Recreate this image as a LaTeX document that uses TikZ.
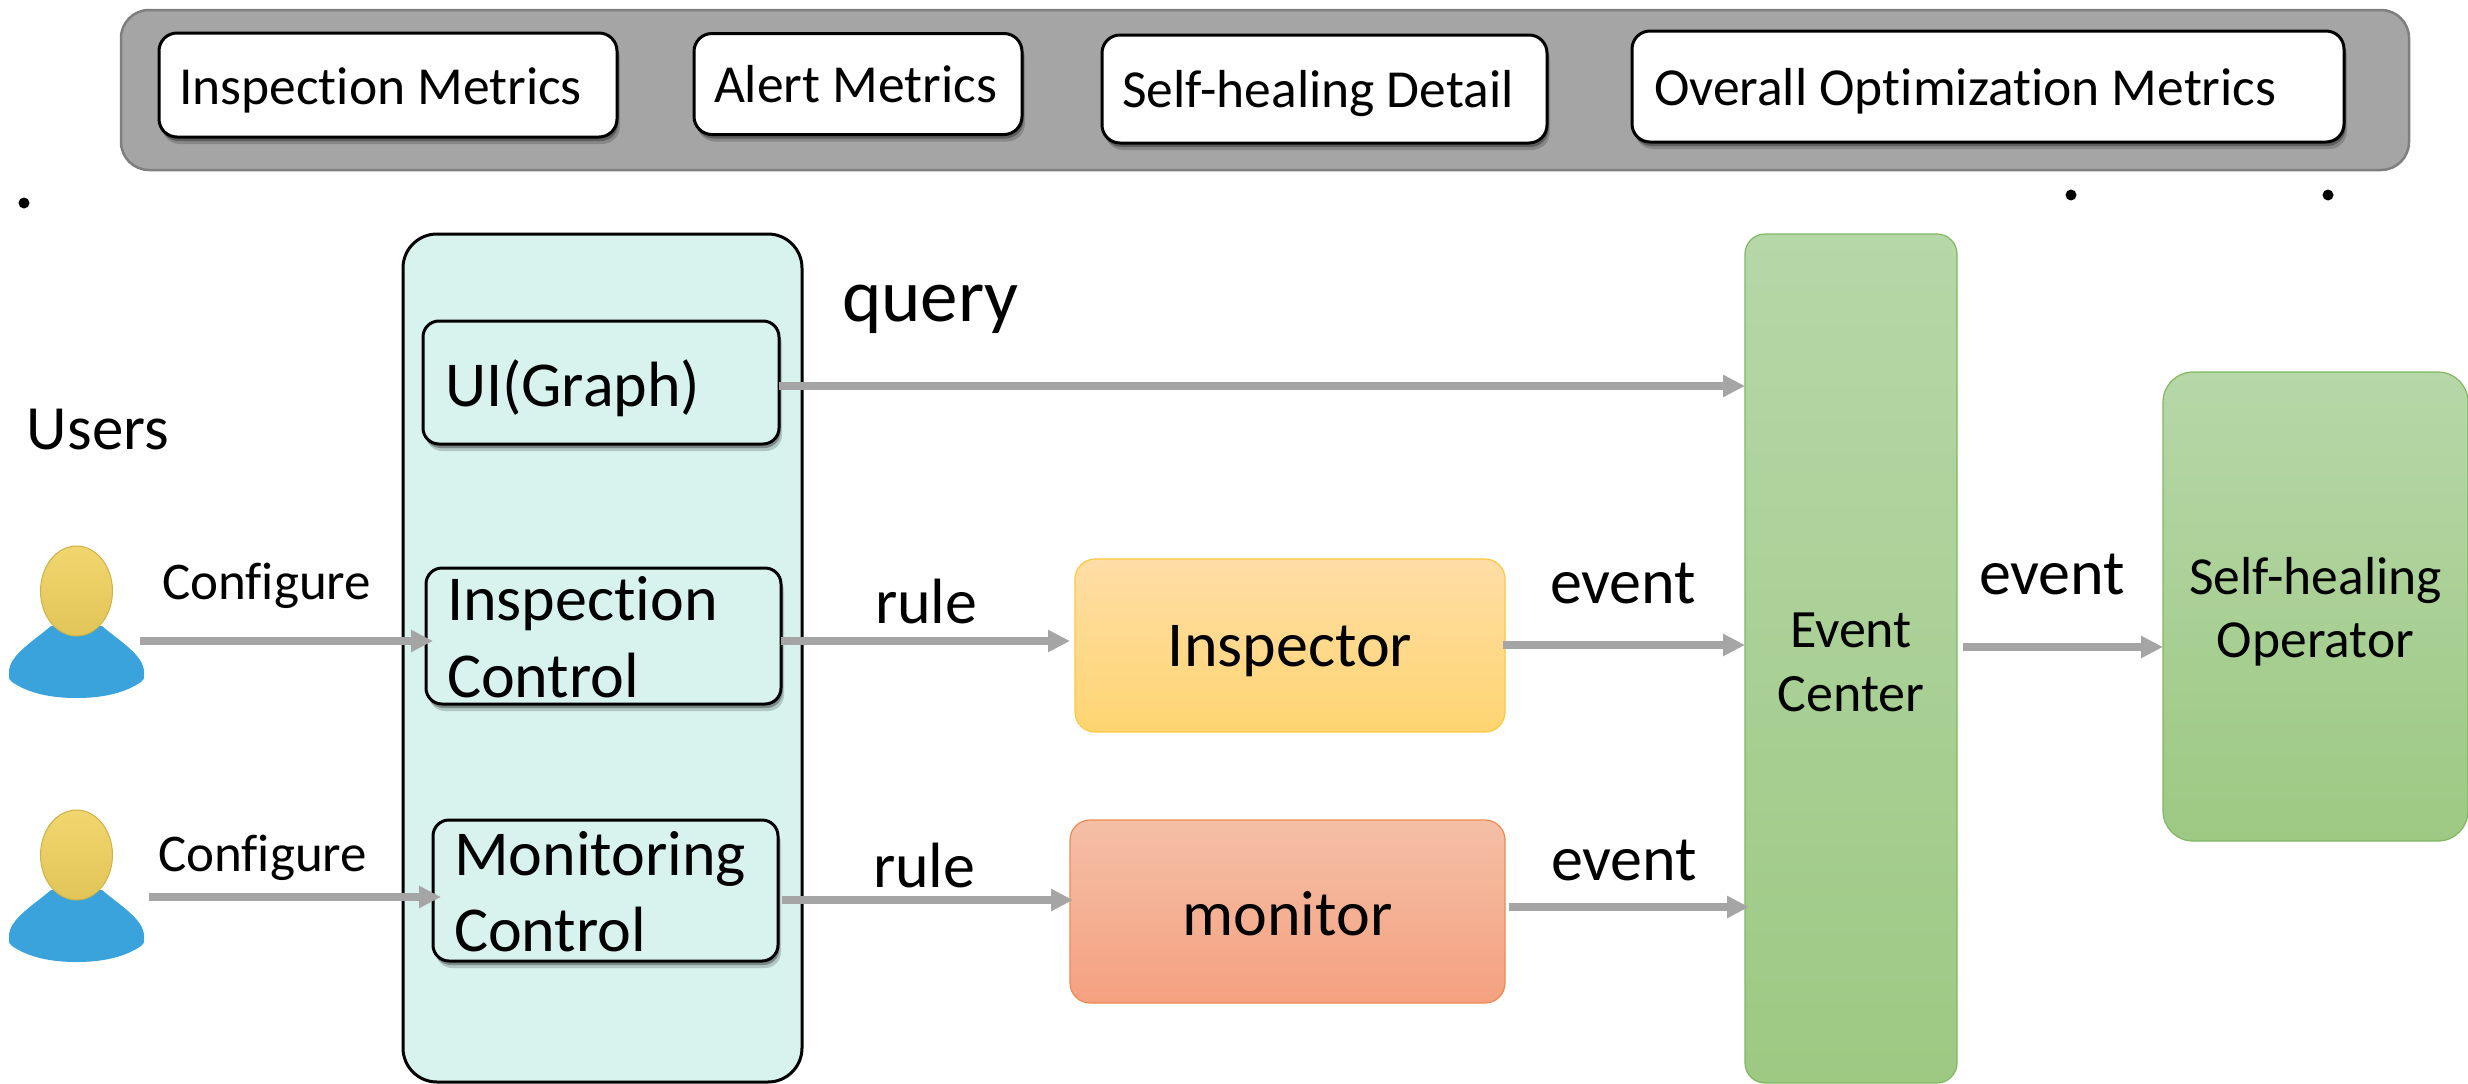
\documentclass[tikz,border=0pt]{standalone}
\usepackage{fontspec}
\setmainfont{Carlito}[Ligatures=NoCommon]
\usetikzlibrary{arrows.meta,shadows}
\definecolor{band}{HTML}{A5A5A5}
\definecolor{bandline}{HTML}{7F7F7F}
\definecolor{teal}{HTML}{D8F3EE}
\definecolor{arrowgrey}{HTML}{A5A5A5}
\definecolor{arcgreen}{HTML}{7FB860}
\definecolor{greentop}{HTML}{B6D7A8}
\definecolor{greenbot}{HTML}{9DC983}
\definecolor{personblue}{HTML}{3AA3DB}
\definecolor{headtop}{HTML}{F1D66F}
\definecolor{headbot}{HTML}{E2C557}
\definecolor{headline}{HTML}{CDB24C}
\definecolor{insptop}{HTML}{FFDDA6}
\definecolor{inspbot}{HTML}{FFD571}
\definecolor{inspline}{HTML}{FFC740}
\definecolor{montop}{HTML}{F4BFA6}
\definecolor{monbot}{HTML}{F5A180}
\definecolor{monline}{HTML}{EE8A50}
\newcommand{\fs}[1]{\fontsize{#1}{#1}\selectfont}
\tikzset{
  x=1pt,y=-1pt,
  boxbase/.style={rectangle,outer sep=0pt,inner sep=0pt,font=\fs{52},align=center},
  softshadow/.style={drop shadow={shadow xshift=3pt,shadow yshift=-7pt,opacity=.18,fill=black},
                     drop shadow={shadow xshift=1.5pt,shadow yshift=-4pt,opacity=.3,fill=black}},
  whitebox/.style={boxbase,draw=black,line width=3pt,fill=white,rounded corners=18pt,softshadow},
  ctlbox/.style={boxbase,draw=black,line width=3pt,fill=teal,rounded corners=16pt,softshadow},
  greenbox/.style={boxbase,draw=arcgreen,line width=1.2pt,top color=greentop,bottom color=greenbot},
  arr/.style={draw=arrowgrey,line width=7.6pt,-{Triangle[length=22pt,width=21pt,fill=arrowgrey]}},
  lbl/.style={anchor=base west,inner sep=0pt,outer sep=0pt},
  person/.pic={
    \fill[personblue] (51,626) .. controls (35,640) and (9,655) .. (9,672)
      .. controls (9,680) and (9,680) .. (12,682)
      .. controls (28,693) and (50,698) .. (76.5,698)
      .. controls (103,698) and (125,693) .. (141,682)
      .. controls (144,680) and (144,680) .. (144,672)
      .. controls (144,655) and (118,640) .. (102,626) -- cycle;
    \shade[top color=headtop,bottom color=headbot,draw=headline,line width=1pt]
      (76.5,591) ellipse [x radius=36,y radius=45];
  }
}
\begin{document}
\begin{tikzpicture}
\useasboundingbox (0,0) rectangle (2468,1084);
% top band
\node[boxbase,draw=bandline,line width=2.5pt,fill=band,rounded corners=28pt,minimum width=2288pt,minimum height=160pt] (band) at (1265,90) {};
\node[whitebox,minimum width=458pt,minimum height=104pt] (m1) at (388,85) {};
\node[whitebox,minimum width=328pt,minimum height=101pt] (m2) at (858,84) {};
\node[whitebox,minimum width=445pt,minimum height=108pt] (m3) at (1324.5,89) {};
\node[whitebox,minimum width=712pt,minimum height=111pt] (m4) at (1988,86.5) {};
\node[lbl,font=\fs{53.5}] (t1) at (179,104) {Inspection Metrics};
\node[lbl,font=\fs{53.5}] (t2) at (714,102) {Alert Metrics};
\node[lbl,font=\fs{53.5}] (t3) at (1122,107) {Self-healing Detail};
\node[lbl,font=\fs{53.5}] (t4) at (1654,105) {Overall Optimization Metrics};
% dots
\fill[black] (24,203) circle (5.5) (2071,195) circle (5.5) (2328,195) circle (5.5);
% control panel
\node[boxbase,draw=black,line width=3pt,fill=teal,rounded corners=34pt,minimum width=399pt,minimum height=848pt] (panel) at (602.5,658) {};
\node[ctlbox,minimum width=356pt,minimum height=123pt] (ui) at (601,382.5) {};
\node[ctlbox,minimum width=355pt,minimum height=136pt] (ictl) at (603.5,636) {};
\node[ctlbox,minimum width=345pt,minimum height=141pt] (mctl) at (605.5,890.5) {};
\node[lbl,font=\fs{64}] (uit) at (445,406) {UI(Graph)};
\node[lbl,font=\fs{64}] (it1) at (447,620) {Inspection};
\node[lbl,font=\fs{64}] (it2) at (447,697) {Control};
\node[lbl,font=\fs{64}] (mt1) at (454,875) {Monitoring};
\node[lbl,font=\fs{64}] (mt2) at (454,951) {Control};
% users
\pic (u1) at (0,0) {person};
\pic (u2) at (0,264) {person};
\node[lbl,font=\fs{63}] (users) at (27,449) {Users};
\node[outer sep=0pt,inner sep=0pt,minimum width=131pt,minimum height=1pt] (p1) at (74.5,641) {};
\node[outer sep=0pt,inner sep=0pt,minimum width=140pt,minimum height=1pt] (p2) at (79,897) {};
\node[lbl,font=\fs{53}] (c1) at (162,599) {Configure};
\node[lbl,font=\fs{53}] (c2) at (158,871) {Configure};
% process boxes
\node[boxbase,draw=inspline,line width=1.2pt,top color=insptop,bottom color=inspbot,rounded corners=20pt,minimum width=430pt,minimum height=173pt,font=\fs{64},text height=55pt,text depth=13pt] (insp) at (1290,645.5) {Inspector};
\node[boxbase,draw=monline,line width=1.2pt,top color=montop,bottom color=monbot,rounded corners=20pt,minimum width=435pt,minimum height=183pt,font=\fs{64},text height=60pt,text depth=13pt] (mon) at (1287.5,911.5) {monitor};
\node[greenbox,rounded corners=20pt,minimum width=212pt,minimum height=849pt,font={\fontsize{54}{64}\selectfont}] (ec) at (1851,658.5) {\rule{0pt}{42pt}Event\\Center};
\node[greenbox,rounded corners=30pt,minimum width=305pt,minimum height=469pt,font={\fontsize{53.5}{63}\selectfont}] (op) at (2315.5,606.5) {\rule{0pt}{47pt}Self-healing\\Operator};
% labels
\node[lbl,font=\fs{75}] (q) at (842,321) {query};
\node[lbl,font=\fs{64}] (r1) at (875,623) {rule};
\node[lbl,font=\fs{64}] (r2) at (873,887) {rule};
\node[lbl,font=\fs{64}] (e1) at (1550,603) {event};
\node[lbl,font=\fs{64}] (e2) at (1551,880) {event};
\node[lbl,font=\fs{64}] (e3) at (1979,594) {event};
% connectors
\draw[arr] (p1.east) -- ([xshift=7pt,yshift=-5pt]ictl.west);
\draw[arr] (p2.east) -- ([xshift=8pt,yshift=-6.5pt]mctl.west);
\draw[arr] ([yshift=-3.5pt]ui.east) -- ([yshift=272.5pt]ec.west);
\draw[arr] ([yshift=-5pt]ictl.east) -- ([xshift=-5pt,yshift=4.5pt]insp.west);
\draw[arr] ([xshift=4pt,yshift=-9.5pt]mctl.east) -- ([xshift=3pt,yshift=11.5pt]mon.west);
\draw[arr] ([xshift=-2pt,yshift=0.5pt]insp.east) -- ([yshift=13.5pt]ec.west);
\draw[arr] ([xshift=4pt,yshift=4.5pt]mon.east) -- ([xshift=4pt,yshift=-248.5pt]ec.west);
\draw[arr] ([xshift=6pt,yshift=11.5pt]ec.east) -- ([yshift=-40.5pt]op.west);
\end{tikzpicture}
\end{document}
